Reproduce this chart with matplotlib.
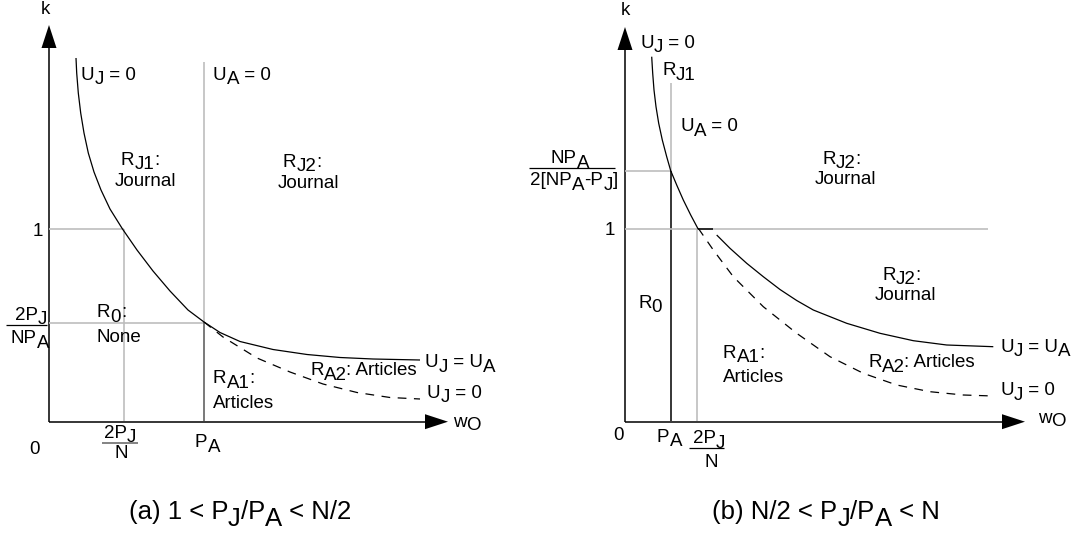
import matplotlib
matplotlib.use("Agg")
import matplotlib.pyplot as plt

plt.rcParams['font.family'] = ['Liberation Sans', 'DejaVu Sans']

# ---------------- data (diagram geometry, image pixel frame) ----------------
# Panel (a): 1 < PJ/PA < N/2
a_uj0_x = [76, 76.7, 78.3, 80.7, 84, 88.3, 94, 101, 110, 122.5, 137, 153, 170, 188, 204]
a_uj0_y = [58, 73, 93, 113, 133, 153, 172, 190, 209, 229, 250, 271, 291, 310, 322]
a_ujua_x = [204, 220, 240, 273, 307, 340, 373, 420]
a_ujua_y = [322, 332.5, 341.5, 349.5, 354.5, 357.5, 359, 360]
a_uj0d_x = [204, 223, 257, 290, 323, 357, 390, 420]
a_uj0d_y = [322, 337, 358, 372, 384, 392.5, 397.5, 399]

# Panel (b): N/2 < PJ/PA < N
b_uj0_x = [651.7, 652.7, 654, 656, 658.7, 662.3, 666.7, 670.7, 676.7, 683.3, 690.7, 698.3]
b_uj0_y = [56.7, 73.3, 90, 106.7, 123.3, 140, 156.7, 170.7, 185, 200, 215, 229.3]
b_uj0d_x = [698.3, 713.3, 733.3, 763.3, 796.7, 830, 863.3, 896.7, 930, 963.3, 993.3]
b_uj0d_y = [228.3, 250, 276.7, 306.7, 333.3, 356.7, 373.3, 385, 391.7, 395, 396]
b_ujua_x = [716.7, 730, 746.7, 763.3, 780, 796.7, 813.3, 846.7, 880, 913.3, 946.7, 993.3]
b_ujua_y = [235, 248.3, 263.3, 276.7, 289.5, 300.5, 310, 323.3, 333.3, 340.7, 345, 346.7]
b_join_x = [698.3, 713.3]
b_join_y = [228.7, 228.7]

GRAY = '#bdbdbd'
DARK = '#6e6e6e'
FS = 13.5

fig = plt.figure(figsize=(10.75, 5.37), dpi=100)
ax = fig.add_axes([0, 0, 1, 1])
ax.set_xlim(0, 1075)
ax.set_ylim(537, 0)
ax.axis('off')

renderer = fig.canvas.get_renderer()

def rich(x, y, parts, size=FS, ha='left', sub=4.5, color='black'):
    """Draw text pieces; parts = list of (text, is_subscript). y is baseline."""
    objs = []
    total = 0
    for txt, s in parts:
        t = ax.text(0, y + (sub if s else 0), txt, fontsize=size, va='baseline',
                    ha='left', color=color)
        w = t.get_window_extent(renderer=renderer).width
        objs.append((t, w))
        total += w
    if ha == 'center':
        cx = x - total / 2
    elif ha == 'right':
        cx = x - total
    else:
        cx = x
    for t, w in objs:
        t.set_x(cx)
        cx += w
    return total

def plain(x, y, s, ha='left', size=FS):
    ax.text(x, y, s, fontsize=size, ha=ha, va='baseline')

def line(xs, ys, color='black', lw=1.0, ls='-'):
    ax.plot(xs, ys, color=color, lw=lw, ls=ls, solid_capstyle='butt')

def arrows(x0, y0, xtip, ytop):
    line([x0, x0], [y0, ytop + 20], lw=1.1)
    ax.fill([x0 - 7.5, x0 + 7.5, x0], [ytop + 23, ytop + 23, ytop], color='black', lw=0)
    line([x0, xtip - 20], [y0, y0], lw=1.1)
    ax.fill([xtip - 23, xtip - 23, xtip], [y0 - 7.5, y0 + 7.5, y0], color='black', lw=0)

# ================= Panel (a) =================
arrows(49, 421.7, 448, 25)
line([49, 124], [229, 229], GRAY, 1.2)
line([124, 124], [229, 421], GRAY, 1.2)
line([49, 204], [322.5, 322.5], GRAY, 1.2)
line([204, 204], [62, 322], GRAY, 1.2)
line([204, 204], [322, 421], DARK, 1.3)
line(a_uj0_x, a_uj0_y, lw=0.9)
line(a_ujua_x, a_ujua_y, lw=0.9)
line(a_uj0d_x, a_uj0d_y, lw=0.9, ls=(0, (7, 6)))

plain(45, 14, 'k', ha='center')
plain(43, 236, '1', ha='right')
rich(31, 320, [('2P', 0), ('J', 1)], ha='center')
line([6, 47], [325, 325], 'black', 0.9)
rich(30, 343, [('NP', 0), ('A', 1)], ha='center')
plain(34, 454, '0', ha='center')
rich(120, 438, [('2P', 0), ('J', 1)], ha='center')
line([102, 138], [443, 443], DARK, 1.2)
plain(121, 458, 'N', ha='center')
rich(195, 447, [('P', 0), ('A', 1)])
rich(453, 427, [('w', 0), ('O', 1)], sub=3)

rich(81, 80, [('U', 0), ('J', 1), (' = 0', 0)])
rich(213, 80, [('U', 0), ('A', 1), (' = 0', 0)])
rich(121, 165, [('R', 0), ('J1', 1), (':', 0)], sub=4)
plain(115, 186, 'Journal')
rich(283, 167, [('R', 0), ('J2', 1), (':', 0)], sub=4)
plain(278, 188, 'Journal')
rich(97, 317, [('R', 0), ('0', 1), (':', 0)])
plain(96, 342, 'None')
rich(213, 383, [('R', 0), ('A1', 1), (':', 0)])
plain(213, 408, 'Articles')
rich(310, 375, [('R', 0), ('A2', 1), (': Articles', 0)])
rich(425, 367, [('U', 0), ('J', 1), (' = U', 0), ('A', 1)])
rich(427, 398, [('U', 0), ('J', 1), (' = 0', 0)])

rich(240, 519, [('(a) 1 < P', 0), ('J', 1), ('/P', 0), ('A', 1), (' < N/2', 0)],
     size=18.5, ha='center', sub=7)

# ================= Panel (b) =================
arrows(625, 421.7, 1025, 27)
line([625, 671], [170.7, 170.7], GRAY, 1.2)
line([671, 671], [83, 171], GRAY, 1.2)
line([671, 671], [171, 421], 'black', 1.1)
line([625, 988], [228.7, 228.7], GRAY, 1.2)
line([697, 697], [229, 421], GRAY, 1.2)
line(b_uj0_x, b_uj0_y, lw=0.9)
line(b_join_x, b_join_y, lw=1.1)
line(b_ujua_x, b_ujua_y, lw=0.9)
line(b_uj0d_x, b_uj0d_y, lw=0.9, ls=(0, (7, 6)))

plain(625, 15, 'k', ha='center')
rich(640, 48, [('U', 0), ('J', 1), (' = 0', 0)])
rich(662, 75, [('R', 0), ('J1', 1)])
rich(680, 131, [('U', 0), ('A', 1), (' = 0', 0)])
rich(570, 163, [('NP', 0), ('A', 1)], ha='center')
line([529, 615], [168, 168], 'black', 0.9)
rich(574, 185, [('2[NP', 0), ('A', 1), ('-P', 0), ('J', 1), (']', 0)], ha='center')
plain(615, 235, '1', ha='right')
plain(618, 440, '0', ha='center')
rich(657, 442, [('P', 0), ('A', 1)])
rich(709, 443, [('2P', 0), ('J', 1)], ha='center')
line([689, 724], [448, 448], 'black', 0.9)
plain(711, 467, 'N', ha='center')
rich(1038, 423, [('w', 0), ('O', 1)], sub=3)

rich(822, 164, [('R', 0), ('J2', 1), (':', 0)], sub=4)
plain(815, 184, 'Journal')
rich(882, 280, [('R', 0), ('J2', 1), (':', 0)], sub=4)
plain(875, 300, 'Journal')
rich(638, 308, [('R', 0), ('0', 1)])
rich(723, 358, [('R', 0), ('A1', 1), (':', 0)])
plain(723, 382, 'Articles')
rich(868, 367, [('R', 0), ('A2', 1), (': Articles', 0)])
rich(1000, 352, [('U', 0), ('J', 1), (' = U', 0), ('A', 1)])
rich(1000, 395, [('U', 0), ('J', 1), (' = 0', 0)])

rich(826, 519, [('(b) N/2 < P', 0), ('J', 1), ('/P', 0), ('A', 1), (' < N', 0)],
     size=18.5, ha='center', sub=7)

fig.savefig('out.png', dpi=100)
